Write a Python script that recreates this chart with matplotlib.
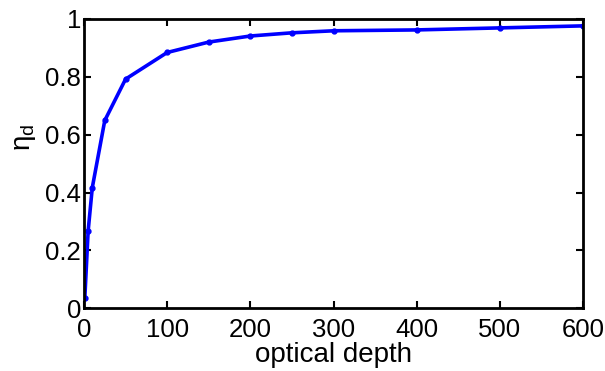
import numpy as np
import matplotlib.pyplot as plt

plt.rcParams['font.family'] = ['Liberation Sans Narrow', 'Liberation Sans', 'DejaVu Sans']
plt.rcParams['mathtext.fontset'] = 'custom'
plt.rcParams['mathtext.rm'] = 'Liberation Sans'
plt.rcParams['mathtext.it'] = 'Liberation Sans'

# optical depth vs detection efficiency
depth = [1, 5, 10, 25, 50, 100, 150, 200, 250, 300, 400, 500, 600]
eta_d = [0.035, 0.267, 0.417, 0.649, 0.792, 0.884, 0.920, 0.941, 0.952,
         0.959, 0.962, 0.969, 0.976]

fig = plt.figure(figsize=(6.05, 3.71), dpi=100)
ax = fig.add_axes([0.1388, 0.169, 0.825, 0.78])
ax.plot(depth, eta_d, '-', color='#0000ff', lw=2.6, marker='o', ms=3.5)

ax.set_xlim(0, 600)
ax.set_ylim(0, 1)
ax.set_xticks(np.arange(0, 601, 100))
ax.set_yticks([0, 0.2, 0.4, 0.6, 0.8, 1])
ax.set_yticklabels(['0', '0.2', '0.4', '0.6', '0.8', '1'])
ax.tick_params(direction='in', top=True, right=True, length=5, width=1.5,
               labelsize=18.5)
ax.tick_params(axis='x', pad=7)
ax.tick_params(axis='y', pad=2)
for s in ax.spines.values():
    s.set_linewidth(2)

ax.set_xlabel('optical depth', fontsize=20, family=['Liberation Sans'], labelpad=0)
ax.set_ylabel(r'$\eta_d$', fontsize=20)
ax.yaxis.set_label_coords(-0.092, 0.59)

fig.savefig('out.png', dpi=100)
